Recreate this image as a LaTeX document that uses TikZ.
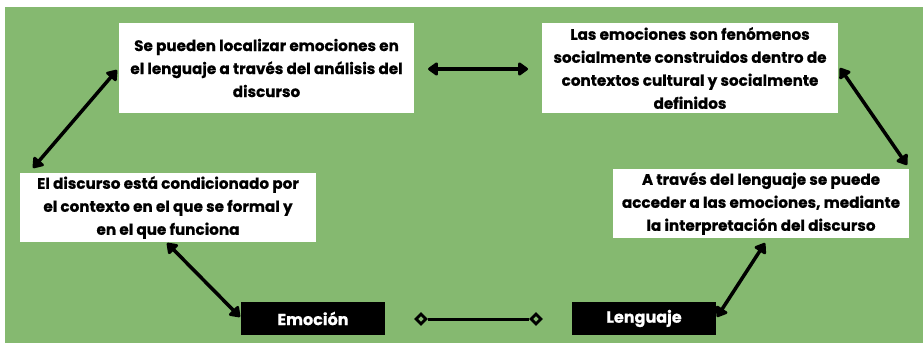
\documentclass[tikz,border=0pt]{standalone}
\usepackage{fontspec}
\setmainfont{Poppins}[BoldFeatures={FakeBold=0.6}]
\usetikzlibrary{arrows.meta,shapes.geometric}
\definecolor{bggreen}{RGB}{133,185,112}
\tikzset{
  wbox/.style={fill=white, draw=none, inner sep=0pt, font=\fontsize{15.2}{23}\selectfont\bfseries, align=center},
  bbox/.style={fill=black, draw=none, inner sep=0pt, text=white, font=\fontsize{16}{18}\selectfont\bfseries},
  darr/.style={line width=3.5pt, {Triangle[length=11pt,width=15pt,round]}-{Triangle[length=11pt,width=15pt,round]}},
  dmnd/.style={diamond, draw=black, fill=bggreen, line width=2.8pt, inner sep=0pt, minimum size=11pt},
  dline/.style={line width=3pt}
}
\begin{document}
\begin{tikzpicture}[x=1pt,y=-1pt]
\useasboundingbox (0,0) rectangle (923,343);
\fill[white] (0,0) rectangle (923,343);
\fill[bggreen] (5,7) rectangle (923,343);
% boxes
\node[wbox, minimum width=295pt, minimum height=90pt] (b1) at (266.5,68) {Se pueden localizar emociones en\\el lenguaje a través del análisis del\\discurso};
\node[wbox, minimum width=296pt, minimum height=90pt] (b2) at (690,68) {Las emociones son fenómenos\\socialmente construidos dentro de\\contextos cultural y socialmente\\definidos};
\node[wbox, minimum width=296pt, minimum height=69pt] (b3) at (168,207.5) {El discurso está condicionado por\\el contexto en el que se formal y\\en el que funciona};
\node[wbox, minimum width=296pt, minimum height=69pt] (b4) at (761,203.5) {A través del lenguaje se puede\\acceder a las emociones, mediante\\la interpretación del discurso};
\node[bbox, minimum width=144pt, minimum height=33pt] (emo) at (313,318.5) {Emoción};
\node[bbox, minimum width=144pt, minimum height=33pt] (len) at (644,318.5) {Lenguaje};
% connectors
\coordinate (t1) at (428,69);
\coordinate (t2) at (528,69);
\draw[darr] (t1) -- (t2);
\coordinate (l1) at (117,70);
\coordinate (l2) at (33,168);
\draw[darr] (l1) -- (l2);
\coordinate (r1) at (840,68);
\coordinate (r2) at (907,165);
\draw[darr] (r1) -- (r2);
\coordinate (e1) at (167,243);
\coordinate (e2) at (240,317);
\draw[darr] (e1) -- (e2);
\coordinate (n1) at (765,243);
\coordinate (n2) at (717,317);
\draw[darr] (n1) -- (n2);
\node[dmnd] (d1) at (421,319) {};
\node[dmnd] (d2) at (536,319) {};
\draw[dline] (d1) -- (d2);
\end{tikzpicture}
\end{document}
